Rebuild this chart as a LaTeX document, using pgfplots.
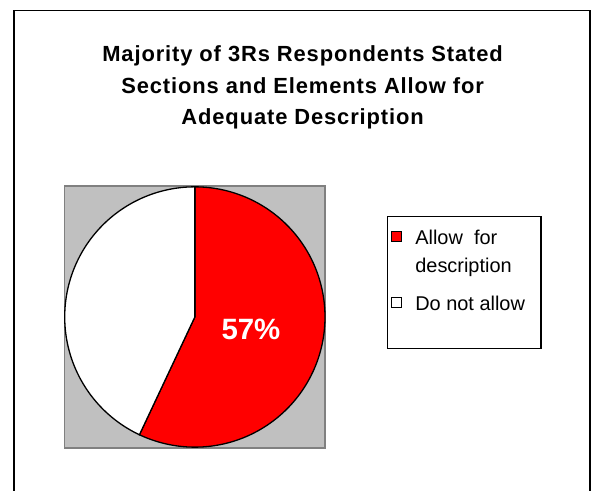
\documentclass[border=0pt]{standalone}
\usepackage{fontspec}
\setmainfont{Liberation Sans}
\newfontfamily\titlefont{Liberation Sans}[LetterSpace=4]
\usepackage{pgfplots}
\usepackage{pgfplotstable}
\pgfplotsset{compat=1.18}

\definecolor{plotgray}{HTML}{C0C0C0}
\definecolor{framegray}{HTML}{808080}

% share of respondents, in percent
\pgfplotstableread{
share
57
43
}\piedata
\pgfplotstablegetelem{0}{share}\of\piedata
\let\shareA\pgfplotsretval
\pgfplotstablegetelem{1}{share}\of\piedata
\let\shareB\pgfplotsretval
\pgfmathsetmacro{\endA}{90-3.6*\shareA}
\pgfmathsetmacro{\endB}{\endA-3.6*\shareB}

\begin{document}
\begin{tikzpicture}[x=1bp,y=1bp]
\useasboundingbox (0,0) rectangle (592,491);
\draw[line width=1.6bp] (14,-10) rectangle (590.2,480.3);
\begin{axis}[
    at={(64.7bp,43bp)}, anchor=south west,
    scale only axis,
    width=260.3bp, height=262bp,
    xmin=-1, xmax=1, ymin=-1.0065, ymax=1.0065,
    xtick=\empty, ytick=\empty,
    axis background/.style={fill=plotgray},
    axis line style={framegray, line width=1.5bp},
    clip=false,
    title={Majority of 3Rs Respondents Stated\\Sections and Elements Allow for\\Adequate Description},
    title style={at={(axis description cs:0.914,1.513)}, anchor=north,
        align=center, inner sep=0pt,
        font=\titlefont\bfseries\fontsize{22}{31.5}\selectfont},
    legend cell align=left,
    legend style={at={(axis description cs:1.237,0.887)}, anchor=north west,
        draw=black, line width=1.1bp, inner xsep=4bp, inner ysep=10bp,
        row sep=18bp, cells={anchor=base west},
        font=\fontsize{20}{24}\selectfont},
]
\addplot[fill=red, draw=black, line width=1.3bp, domain=\endA:90, samples=180,
    legend image code/.code={\draw[fill=red, draw=black, line width=0.9bp] (0bp,31bp) rectangle (10bp,41bp);
        \path (21bp,0bp);}]
    ({cos(x)},{sin(x)}) -- (axis cs:0,0) -- cycle;
\addlegendentry{\begin{tabular}[b]{@{}l@{}}Allow\ \ for\\[4bp]description\end{tabular}}
\addplot[fill=white, draw=black, line width=1.3bp, domain=\endB:\endA, samples=140,
    legend image code/.code={\draw[fill=white, draw=black, line width=0.9bp] (0bp,3bp) rectangle (10bp,13bp);
        \path (21bp,0bp);}]
    ({cos(x)},{sin(x)}) -- (axis cs:0,0) -- cycle;
\addlegendentry{Do not allow\rule{10bp}{0pt}}
\addlegendimage{empty legend}
\addlegendentry{\rule{0pt}{1bp}}
\node[anchor=base, text=white, font=\bfseries\fontsize{29.5}{36}\selectfont]
    at (axis cs:0.431,-0.173) {\shareA\%};
\end{axis}
\end{tikzpicture}
\end{document}
